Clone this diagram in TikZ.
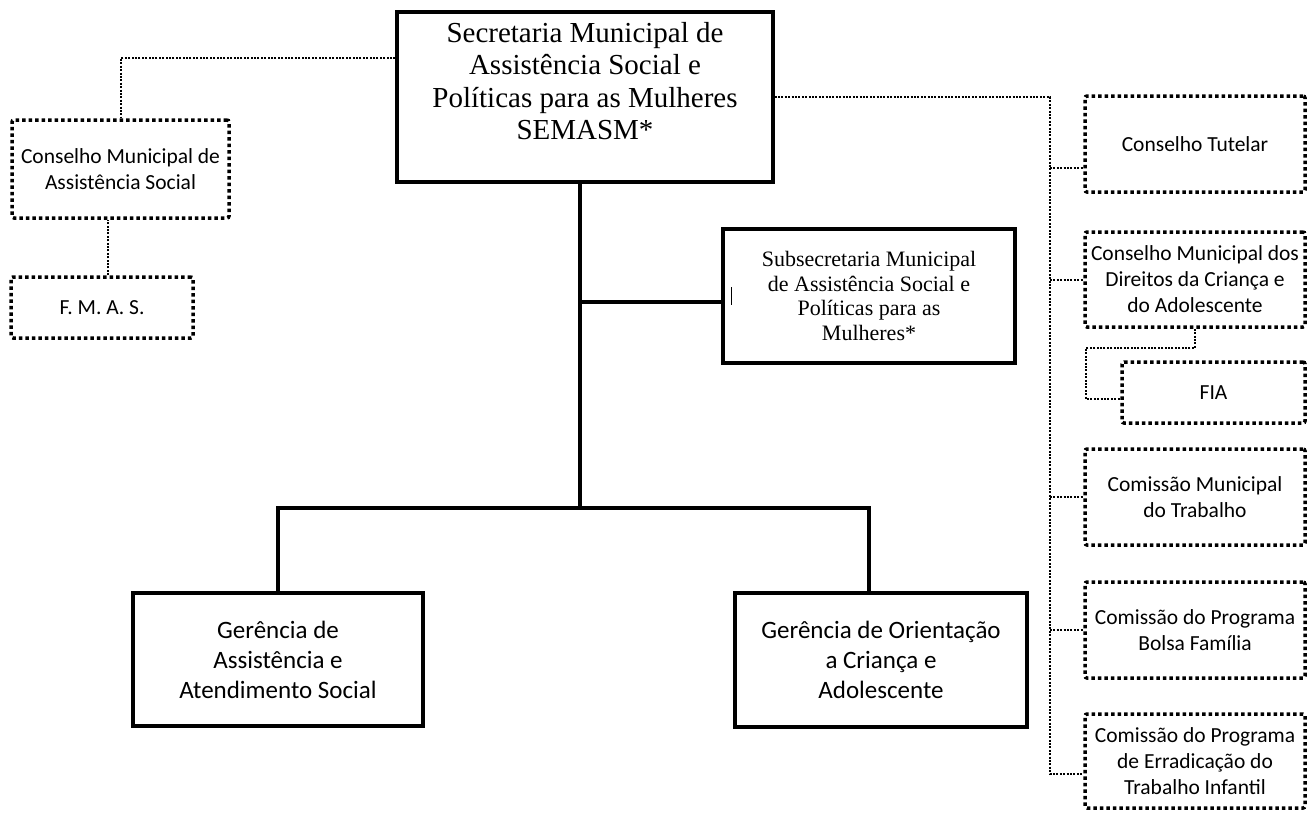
\documentclass[tikz,border=0pt]{standalone}
\usepackage{fontspec}
\newfontfamily\timesf{Liberation Serif}
\newfontfamily\calf{Carlito}
\begin{document}
\begin{tikzpicture}[x=1pt,y=-1pt,
  solidbox/.style={draw, line width=3.2pt, inner sep=0pt, align=center},
  dotbox/.style={draw, line width=3.5pt, dash pattern=on 3.5pt off 3pt, rounded corners=2pt, inner sep=0pt, align=center},
  conn/.style={line width=2pt, dash pattern=on 2pt off 1.4pt},
  tree/.style={line width=3.2pt},
  bigserif/.style={font=\timesf\fontsize{29}{32.5}\selectfont},
  midserif/.style={font=\timesf\fontsize{22}{24.5}\selectfont},
  calsmall/.style={font=\calf\fontsize{21.5}{26}\selectfont},
  calbig/.style={font=\calf\fontsize{25}{30}\selectfont}]
\useasboundingbox (0,0) rectangle (1314,812);

% main boxes
\node[solidbox, bigserif, minimum width=376pt, minimum height=170pt] (sec) at (585,97)
  {Secretaria Municipal de\\Assistência Social e\\Políticas para as Mulheres\\SEMASM*\\[-10pt]\strut};
\node[solidbox, midserif, minimum width=292pt, minimum height=134pt] (sub) at (869,296)
  {Subsecretaria Municipal\\de Assistência Social e\\Políticas para as\\Mulheres*};
\node[solidbox, calbig, minimum width=290pt, minimum height=133pt] (ger1) at (278,659.5)
  {Gerência de\\Assistência e\\Atendimento Social};
\node[solidbox, calbig, minimum width=292pt, minimum height=134pt] (ger2) at (881,660)
  {Gerência de Orientação\\a Criança e\\Adolescente};

% left dotted boxes
\node[dotbox, calsmall, minimum width=217pt, minimum height=98pt] (cmas) at (120.5,169)
  {Conselho Municipal de\\Assistência Social};
\node[dotbox, calsmall, minimum width=182pt, minimum height=61pt] (fmas) at (102,307.5)
  {F. M. A. S.};

% right dotted boxes
\node[dotbox, calsmall, minimum width=220pt, minimum height=96pt] (ct) at (1195,144)
  {Conselho Tutelar};
\node[dotbox, calsmall, minimum width=220pt, minimum height=95pt] (cmdca) at (1195,279.5)
  {Conselho Municipal dos\\Direitos da Criança e\\do Adolescente};
\node[dotbox, calsmall, minimum width=183pt, minimum height=61pt] (fia) at (1213.5,392.5)
  {FIA};
\node[dotbox, calsmall, minimum width=220pt, minimum height=96pt] (cmt) at (1195,497)
  {Comissão Municipal\\do Trabalho};
\node[dotbox, calsmall, minimum width=220pt, minimum height=96pt] (bolsa) at (1195,630)
  {Comissão do Programa\\Bolsa Família};
\node[dotbox, calsmall, minimum width=220pt, minimum height=94pt] (peti) at (1195,761)
  {Comissão do Programa\\de Erradicação do\\Trabalho Infantil};

% solid tree connectors
\coordinate (j1) at (580,302);
\coordinate (j2) at (580,508);
\draw[tree] ([xshift=-5pt]sec.south) -- (j2);
\draw[tree] (j1) -- (j1 -| sub.west);
\draw[tree] (ger1.north) |- (j2) -| ([xshift=-12pt]ger2.north);
\draw[line width=0.8pt] ([xshift=10pt,yshift=9pt]sub.west) -- ([xshift=10pt,yshift=-9pt]sub.west);

% left dotted connectors
\draw[conn] ([yshift=-48pt]sec.north west) -| (cmas.north);
\draw[conn] ([xshift=6pt]fmas.north) -- ([xshift=6pt]fmas.north |- cmas.south);

% right dotted connectors
\coordinate (spinebot) at (1050,774);
\coordinate (ctin) at ([yshift=-24pt]ct.west);
\draw[conn] (sec.east) -| (spinebot) -- (spinebot -| peti.west);
\draw[conn] (spinebot |- ctin) -- (ctin);
\draw[conn] (spinebot |- cmdca.west) -- (cmdca.west);
\draw[conn] (spinebot |- cmt.west) -- (cmt.west);
\draw[conn] (spinebot |- bolsa.west) -- (bolsa.west);
\coordinate (fiaA) at (1086,348);
\coordinate (fiaB) at (1086,399);
\draw[conn] (cmdca.south) |- (fiaA) -- (fiaB) -- (fiaB -| fia.west);
\end{tikzpicture}
\end{document}
